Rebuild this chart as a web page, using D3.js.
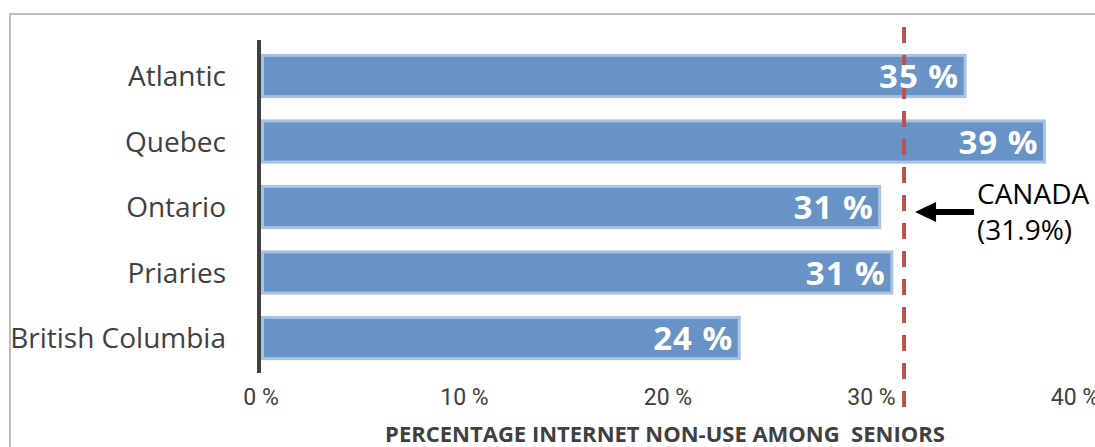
<!DOCTYPE html>
<meta charset='utf-8'>
<style>
  body { margin: 0; background: #fff; font-family: 'Open Sans', 'DejaVu Sans', sans-serif; }
  .catText { fill: #404040; font-size: 28px; }
  .tickText { fill: #404040; font-size: 23px; font-family: Roboto, sans-serif; }
  .barText { fill: #fff; font-size: 33px; font-weight: 700; letter-spacing: 1px; }
  .axisTitle { fill: #404040; font-size: 22px; font-weight: 700; }
  .note { fill: #000; font-size: 28px; }
</style>
<body>
<div id='viz'></div>
<script src='https://d3js.org/d3.v7.min.js'></script>
<script>

// Data
var regions   = ['Atlantic', 'Quebec', 'Ontario', 'Priaries', 'British Columbia'];
var values    = [34.6, 38.5, 30.4, 31.0, 23.5];
var barLabels = ['35 %', '39 %', '31 %', '31 %', '24 %'];
var ticks     = [0, 10, 20, 30, 40];
var canadaValue = 31.6;
var canadaLabel = ['CANADA', '(31.9%)'];
var axisTitle = 'PERCENTAGE INTERNET NON-USE AMONG  SENIORS';

var W = 1095, H = 447;

var xScale = d3.scaleLinear().domain([0, 40]).range([261, 1075]);
var yScale = d3.scaleBand().domain(regions).range([43.25, 370.75])
    .paddingInner(0.37).paddingOuter(0.185);

var svg = d3.select('#viz').append('svg')
    .attr('width', W)
    .attr('height', H);

// outer frame (runs off the right and bottom edges)
svg.append('rect')
    .attr('x', 10).attr('y', 14)
    .attr('width', 1200).attr('height', 600)
    .attr('fill', 'none')
    .attr('stroke', '#bfbfbf')
    .attr('stroke-width', 2);

// bars
svg.selectAll('.bar')
    .data(values)
    .enter().append('rect')
    .attr('class', 'bar')
    .attr('x', xScale(0) + 1.5)
    .attr('y', function(d, i) { return yScale(regions[i]); })
    .attr('width', function(d) { return xScale(d) - xScale(0) - 1.5; })
    .attr('height', yScale.bandwidth())
    .attr('fill', '#6793c7')
    .attr('stroke', '#aac3e3')
    .attr('stroke-width', 3);

// vertical axis line
svg.append('line')
    .attr('x1', 259).attr('x2', 259)
    .attr('y1', 40).attr('y2', 373)
    .attr('stroke', '#404040')
    .attr('stroke-width', 4);

// category labels
svg.selectAll('.catText')
    .data(regions)
    .enter().append('text')
    .attr('class', 'catText')
    .attr('x', 226)
    .attr('y', function(d) { return yScale(d) + yScale.bandwidth() / 2 + 10; })
    .attr('text-anchor', 'end')
    .text(function(d) { return d; });

// tick labels
svg.selectAll('.tickText')
    .data(ticks)
    .enter().append('text')
    .attr('class', 'tickText')
    .attr('x', function(d) { return xScale(d); })
    .attr('y', 405)
    .attr('text-anchor', 'middle')
    .text(function(d) { return d + ' %'; });

// Canada reference line
svg.append('line')
    .attr('x1', xScale(canadaValue)).attr('x2', xScale(canadaValue))
    .attr('y1', 27).attr('y2', 408)
    .attr('stroke', '#c0504d')
    .attr('stroke-width', 4)
    .attr('stroke-dasharray', '16,12');

// value labels inside bars
svg.selectAll('.barText')
    .data(values)
    .enter().append('text')
    .attr('class', 'barText')
    .attr('x', function(d) { return xScale(d) - 6; })
    .attr('y', function(d, i) { return yScale(regions[i]) + yScale.bandwidth() / 2 + 12; })
    .attr('text-anchor', 'end')
    .text(function(d, i) { return barLabels[i]; });

// arrow pointing at the Canada line
var ay = 212, ax = xScale(canadaValue) + 11;
svg.append('line')
    .attr('x1', ax + 18).attr('x2', 974)
    .attr('y1', ay).attr('y2', ay)
    .attr('stroke', '#000')
    .attr('stroke-width', 6);
svg.append('path')
    .attr('d', 'M' + ax + ',' + ay + 'L' + (ax + 21) + ',' + (ay - 10) +
               'L' + (ax + 21) + ',' + (ay + 10) + 'Z')
    .attr('fill', '#000');

svg.selectAll('.note')
    .data(canadaLabel)
    .enter().append('text')
    .attr('class', 'note')
    .attr('x', 977)
    .attr('y', function(d, i) { return 204 + i * 36; })
    .text(function(d) { return d; });

// axis title
svg.append('text')
    .attr('class', 'axisTitle')
    .attr('x', 665)
    .attr('y', 442)
    .attr('text-anchor', 'middle')
    .style('white-space', 'pre')
    .text(axisTitle);

</script>
</body>
